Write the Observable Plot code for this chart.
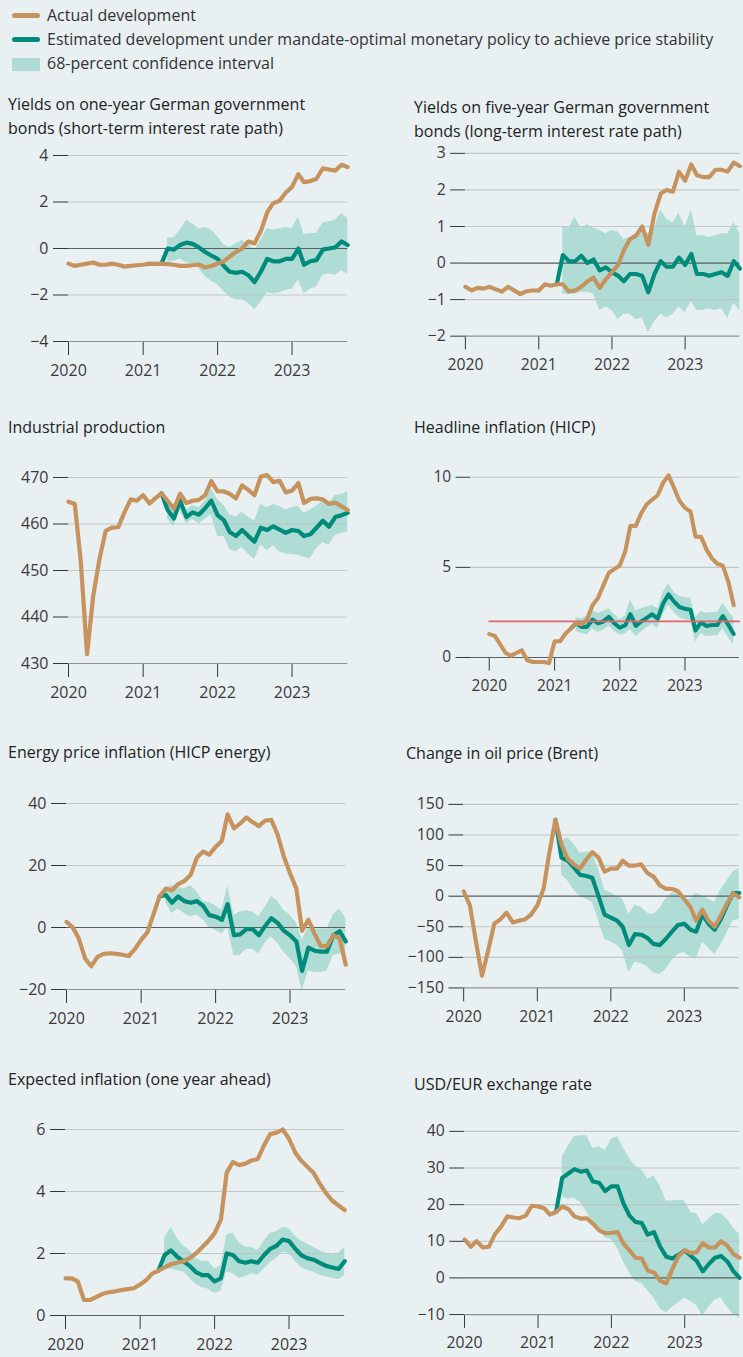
<!DOCTYPE html>
<html><head><meta charset="utf-8">
<script src="https://cdn.jsdelivr.net/npm/d3@7"></script>
<script src="https://cdn.jsdelivr.net/npm/@observablehq/plot@0.6"></script>
<style>
html,body{margin:0;padding:0;background:#e8f0f1;}
#root{position:relative;width:743px;height:1357px;overflow:hidden;background:#e8f0f1;font-family:"Open Sans",sans-serif;color:#222;}
.txt{position:absolute;white-space:nowrap;font-size:16px;line-height:24px;}
.leg{color:#333;}
.panel{position:absolute;}
.sw{position:absolute;}
</style></head>
<body><div id="root"></div>
<script>
// ---------- DATA (monthly, Jan 2020 – Oct 2023; counterfactual from Apr 2021, band from May 2021) ----------
const yearTicks = [2020, 2021, 2022, 2023];
const legendLabels = ["Actual development", "Estimated development under mandate-optimal monetary policy to achieve price stability", "68-percent confidence interval"];

// 1. Yields on one-year German government bonds
const y1Actual = [-0.65,-0.75,-0.7,-0.65,-0.6,-0.7,-0.7,-0.65,-0.7,-0.78,-0.75,-0.72,-0.7,-0.65,-0.66,-0.65,-0.67,-0.7,-0.75,-0.75,-0.72,-0.68,-0.82,-0.75,-0.65,-0.55,-0.35,-0.15,0.0,0.3,0.22,0.75,1.55,1.95,2.05,2.4,2.65,3.2,2.85,2.9,3.0,3.45,3.4,3.35,3.6,3.5];
const y1Est = [-0.65,0.0,-0.05,0.15,0.25,0.2,0.05,-0.15,-0.3,-0.45,-0.75,-1.0,-1.05,-1.0,-1.15,-1.45,-1.0,-0.45,-0.55,-0.55,-0.45,-0.45,0.0,-0.7,-0.55,-0.5,-0.05,0.0,0.05,0.3,0.15];
const y1Hi = [0.45,0.45,0.8,1.2,1.05,0.85,0.9,0.8,0.5,0.15,0.05,0.2,0.35,0.2,-0.1,0.35,0.85,0.8,0.85,0.9,0.85,1.35,0.6,0.65,0.65,1.1,1.15,1.2,1.5,1.3];
const y1Lo = [-0.6,-0.55,-0.45,-0.6,-0.7,-0.85,-1.2,-1.4,-1.55,-1.85,-2.1,-2.2,-2.2,-2.35,-2.65,-2.3,-1.9,-1.95,-1.9,-1.8,-1.75,-1.35,-1.95,-1.75,-1.65,-1.15,-1.1,-1.15,-0.95,-1.1];

// 2. Yields on five-year German government bonds
const y5Actual = [-0.65,-0.75,-0.68,-0.7,-0.65,-0.72,-0.78,-0.65,-0.75,-0.85,-0.77,-0.75,-0.75,-0.58,-0.62,-0.58,-0.58,-0.78,-0.75,-0.65,-0.5,-0.4,-0.68,-0.45,-0.25,-0.05,0.35,0.65,0.75,1.0,0.5,1.35,1.9,2.0,1.95,2.5,2.25,2.7,2.4,2.35,2.35,2.55,2.55,2.5,2.75,2.65];
const y5Est = [-0.58,0.22,0.05,0.05,0.2,0.0,0.1,-0.2,-0.12,-0.25,-0.35,-0.5,-0.3,-0.3,-0.35,-0.8,-0.3,0.05,-0.1,-0.1,0.15,-0.05,0.25,-0.3,-0.3,-0.35,-0.3,-0.25,-0.35,0.05,-0.15];
const y5Hi = [1.0,0.95,1.25,0.95,1.05,0.95,0.9,0.8,0.9,0.85,0.65,0.7,0.8,0.9,0.8,0.95,1.45,1.2,1.1,1.35,1.0,1.45,0.75,0.75,0.7,0.75,0.8,0.8,1.1,0.8];
const y5Lo = [-0.85,-0.85,-0.85,-0.8,-0.8,-0.85,-1.3,-1.2,-1.3,-1.55,-1.4,-1.4,-1.55,-1.5,-1.9,-1.6,-1.4,-1.5,-1.4,-1.2,-1.35,-1.05,-1.3,-1.3,-1.25,-1.3,-1.25,-1.5,-1.1,-1.3];

// 3. Industrial production
const ipActual = [464.8,464.3,452,432,444.5,452.5,458.5,459.2,459.3,462.5,465.3,465,466.2,464.4,465.5,466.6,465,463.3,466.5,464.5,465,465.2,466.2,469.2,467,467,466.5,465.5,468.3,467.3,466.2,470.2,470.5,469,469.3,466.8,467.2,468.8,464.5,465.4,465.5,465.3,464.3,464.6,463.8,463];
const ipEst = [466.6,463,461.2,465,461.5,462.5,462,463.4,465,461.9,460.8,458.3,457.4,458.7,457.4,456.2,459.2,458.7,459.5,458.8,458.1,458.7,458.5,457.4,457.8,459.2,460.7,459.4,461.5,461.9,462.4];
const ipHi = [465,463.5,466.5,463,464,463.5,465,467.5,465.2,464,462,461.5,462.5,461.5,460.6,464.3,463.5,464.2,463.8,463,463.5,463.8,462.3,463,463.8,465,464.3,466.2,466.3,467];
const ipLo = [461,459.5,463,460,461,460,461,462,457.3,457.3,454.5,454,455,453.5,452.4,455.5,454.3,455.3,454,453.5,453.5,453.3,452.8,452.6,454.7,456,455.4,457.5,458,458.2];

// 4. Headline inflation (HICP)
const hicpActual = [1.3,1.2,0.75,0.25,0.1,0.25,0.4,-0.15,-0.25,-0.25,-0.25,-0.3,0.9,0.9,1.3,1.6,1.9,1.85,2.1,2.9,3.3,4.0,4.7,4.9,5.1,5.9,7.3,7.3,8.0,8.5,8.75,9.0,9.7,10.1,9.4,8.7,8.3,8.1,6.7,6.7,6.0,5.5,5.2,5.1,4.2,2.9];
const hicpEst = [1.6,1.9,1.7,1.7,2.1,1.9,2.0,2.25,1.9,1.65,1.8,2.4,1.75,2.0,2.2,2.4,2.15,3.0,3.5,3.1,2.8,2.7,2.65,1.5,1.95,1.75,1.8,1.8,2.3,1.8,1.3];
const hicpHi = [2.2,2.15,2.3,2.6,2.45,2.55,2.7,2.4,2.1,2.3,3.2,2.6,2.7,2.8,2.9,2.7,3.6,4.1,3.6,3.4,3.3,3.3,2.2,2.55,2.45,2.5,2.5,3.0,2.55,2.2];
const hicpLo = [1.45,1.35,1.25,1.6,1.4,1.5,1.75,1.45,1.25,1.3,1.55,1.15,1.4,1.65,1.85,1.6,2.4,2.9,2.5,2.2,2.1,2.05,0.85,1.35,1.15,1.2,1.2,1.6,1.1,0.7];
const hicpTarget = 2;

// 5. Energy price inflation (HICP energy)
const enActual = [1.8,0,-3.5,-10,-12.5,-9.5,-8.5,-8.3,-8.5,-8.8,-9.2,-7,-4,-1.5,4,10,12.5,12,14,15,17,22.5,24.5,23.5,26,28,36.5,32,33.5,35.5,34,32.7,34.5,34.7,30,23,17.5,12.5,-1,2.5,-2,-6,-6,-2.5,-3.5,-12];
const enEst = [10,10.5,8,10,8.5,8,8.5,7,4,3.5,2.5,7.5,-2.5,-2.2,-0.5,-0.5,-2.5,0.5,3,1.5,-1,-2.5,-4.5,-14,-6.5,-7.5,-7.8,-7.8,-2.5,-1.2,-4.5];
const enHi = [13,13.5,13,12.5,13.5,11.5,8.5,8,7,5.5,13.5,4,5,5.5,5,3.5,6.5,10,8.5,5.5,4,1.5,-4,0,-0.5,-0.5,-0.5,4,6,3];
const enLo = [8,4.5,6,4.5,3.5,4,2.5,0,-1,-2,0,-9,-9,-7,-7,-8.5,-5,-3,-5,-8,-10,-12.5,-20.5,-14,-14.5,-14.5,-14,-9,-8.5,-8];

// 6. Change in oil price (Brent)
const oilActual = [8,-15,-72,-130,-90,-45,-38,-27,-43,-40,-38,-30,-15,12,70,125,84,61,52,45,60,72,63,40,45,45,58,50,50,52,38,32,18,12,12,8,-5,-18,-40,-22,-40,-50,-32,-12,5,-2];
const oilEst = [125,63,58,47,35,33,30,0,-30,-35,-40,-50,-80,-62,-63,-68,-78,-80,-70,-58,-47,-45,-55,-58,-30,-45,-55,-38,-15,5,5];
const oilHi = [90,95,85,70,72,70,45,10,5,0,-5,-30,-15,-18,-28,-30,-20,-5,5,5,-5,-5,5,0,-5,-10,10,25,40,45];
const oilLo = [35,25,10,0,-5,-10,-40,-70,-75,-80,-90,-125,-108,-110,-115,-125,-128,-120,-105,-95,-92,-100,-103,-75,-85,-95,-80,-60,-40,-38];

// 7. Expected inflation (one year ahead)
const exActual = [1.2,1.2,1.1,0.5,0.5,0.6,0.7,0.75,0.78,0.82,0.85,0.88,1.0,1.15,1.35,1.45,1.55,1.65,1.7,1.75,1.85,2.0,2.2,2.4,2.65,3.1,4.6,4.95,4.85,4.9,5.0,5.05,5.5,5.85,5.9,6.0,5.7,5.25,5.0,4.8,4.6,4.25,3.95,3.7,3.55,3.4];
const exEst = [1.45,1.95,2.1,1.9,1.75,1.6,1.4,1.3,1.3,1.1,1.2,2.0,1.95,1.75,1.7,1.75,1.7,1.95,2.15,2.25,2.45,2.4,2.15,1.95,1.85,1.8,1.7,1.6,1.55,1.5,1.75];
const exHi = [2.5,2.85,2.5,2.25,2.1,1.85,1.75,1.75,1.5,1.6,2.6,2.65,2.35,2.2,2.2,2.1,2.4,2.65,2.7,2.85,2.8,2.55,2.4,2.3,2.2,2.1,2.0,1.95,2.0,2.2];
const exLo = [1.5,1.5,1.45,1.4,1.2,1.0,0.9,0.85,0.7,0.8,1.4,1.35,1.2,1.25,1.35,1.3,1.5,1.7,1.85,2.05,2.0,1.75,1.55,1.45,1.4,1.3,1.25,1.2,1.15,1.3];

// 8. USD/EUR exchange rate
const fxActual = [10.5,8.5,10,8.3,8.5,12,14,16.8,16.5,16.3,17,19.7,19.5,19,17.3,18,19.5,18.8,16.8,16.2,16.3,14.8,13,12.2,12.3,12.5,9.5,7.5,5.5,5.3,2,1.5,-0.8,-1.5,2.5,6,7.5,6.8,7,9.5,8.3,8.3,10,8.8,6.5,5.5];
const fxEst = [18,27.3,28.5,29.7,29,29.3,26.3,26,23.7,25,25,20.5,17,15.3,15,11.8,12.5,8.5,5.8,5.3,6.3,7.5,6,4.7,1.8,3.8,5.5,6,4.5,1.8,0];
const fxHi = [33,36,38.5,38.8,38.8,35.3,35.8,34.8,37.8,38.5,35.5,32.5,30.5,29.5,27,27.8,25,21,21,21.2,21,17.8,17.6,14.5,16,17.6,17.5,16,13.5,12];
const fxLo = [22,21.5,21.8,20.5,18,15,13,11,10.5,8,4.5,1.5,-1,-1.5,-3.5,-5.5,-8.5,-9.5,-8,-6.8,-5.5,-6.5,-7.5,-10.5,-8,-6,-5.5,-8,-10,-11];

// ---------- COLOURS ----------
const C_ACT = "#c6925e", C_EST = "#008b7b", C_BAND = "#afdcd4", C_TARGET = "#e2646e";
const C_GRID = "#bcc3c5", C_ZERO = "#5a5f61", C_BASE = "#8c9395", C_TEXT = "#3a3a3a";

// ---------- HELPERS ----------
const root = document.getElementById("root");
const months = d3.utcMonth.range(new Date(Date.UTC(2020,0,1)), new Date(Date.UTC(2023,10,1)));
const EST_START = 15, BAND_START = 16;
const YEAR = 365.25 * 864e5;
const D2020 = new Date(Date.UTC(2020,0,1));
const yearDates = yearTicks.map(y => new Date(Date.UTC(y,0,1)));

function addText(str, x, yc, cls) {
  const d = document.createElement("div");
  d.className = "txt" + (cls ? " " + cls : ""); d.textContent = str;
  d.style.left = x + "px"; d.style.top = (yc - 12) + "px";
  root.appendChild(d);
}
function addBox(x, y, w, h, bg, r) {
  const d = document.createElement("div");
  d.className = "sw";
  Object.assign(d.style, {left: x+"px", top: y+"px", width: w+"px", height: h+"px", background: bg, borderRadius: (r||0)+"px"});
  root.appendChild(d);
}

// legend
addBox(12, 12.5, 28, 5, C_ACT, 3);
addText(legendLabels[0], 47, 15, "leg");
addBox(12, 37, 28, 5, C_EST, 3);
addText(legendLabels[1], 47, 39, "leg");
addBox(12, 58, 28, 13, C_BAND, 0);
addText(legendLabels[2], 47, 63, "leg");

function panel(cfg) {
  const {xa, ppy, ds, de, yTop, yDomain, yTicks, actual, est, hi, lo, target} = cfg;
  const px = d => xa + (d - D2020) / YEAR * ppy;
  const mL = 64, mR = 4, mT = 8, mB = 44, H = 186;
  const xs = px(ds), xe = px(de);
  const width = xe - xs + mL + mR;
  const A = actual.map((v,i) => ({date: months[i], v}));
  const E = est.map((v,i) => ({date: months[i+EST_START], v}));
  const B = hi.map((v,i) => ({date: months[i+BAND_START], hi: v, lo: lo[i]}));
  const fmt = d3.format("");
  const marks = [
    Plot.axisY(yTicks, {anchor: "left", tickSize: 15, tickPadding: 5, fontSize: 16, color: C_TEXT, stroke: "#333", tickFormat: fmt}),
    Plot.axisX(yearDates, {anchor: "bottom", tickSize: 14, tickPadding: 9, fontSize: 16, color: C_TEXT, stroke: "#333", tickFormat: d3.utcFormat("%Y")}),
    Plot.areaY(B, {x: "date", y1: "lo", y2: "hi", fill: C_BAND, fillOpacity: 1}),
    Plot.gridY(yTicks.filter(t => t !== 0 && t !== yDomain[0]), {stroke: C_GRID, strokeOpacity: 0.9, strokeWidth: 1.2}),
    Plot.ruleY([yDomain[0]], {stroke: yDomain[0] === 0 ? C_ZERO : C_BASE, strokeWidth: 1.2}),
  ];
  if (yDomain[0] < 0 && yDomain[1] > 0) marks.push(Plot.ruleY([0], {stroke: C_ZERO, strokeWidth: 1.2}));
  marks.push(Plot.lineY(E, {x: "date", y: "v", stroke: C_EST, strokeWidth: 4.2, strokeLinejoin: "round", strokeLinecap: "round"}));
  if (target !== undefined) {
    marks.push(Plot.lineY([{date: months[0], v: target}, {date: de, v: target}], {x: "date", y: "v", stroke: C_TARGET, strokeWidth: 1.8}));
  }
  marks.push(Plot.lineY(A, {x: "date", y: "v", stroke: C_ACT, strokeWidth: 4.2, strokeLinejoin: "round", strokeLinecap: "round"}));
  const svg = Plot.plot({
    width, height: mT + H + mB,
    marginLeft: mL, marginRight: mR, marginTop: mT, marginBottom: mB,
    x: {type: "utc", domain: [ds, de], axis: null},
    y: {domain: yDomain, axis: null},
    style: {background: "transparent", fontFamily: "'Open Sans', sans-serif", fontSize: "16px", color: C_TEXT, overflow: "visible"},
    marks
  });
  const wrap = document.createElement("div");
  wrap.className = "panel";
  wrap.style.left = (xs - mL) + "px";
  wrap.style.top = (yTop - mT) + "px";
  wrap.appendChild(svg);
  root.appendChild(wrap);
}

const dStart = new Date(Date.UTC(2020,0,1)), dEnd = new Date(Date.UTC(2023,9,1));

// titles
addText("Yields on one-year German government", 8, 104);
addText("bonds (short-term interest rate path)", 8, 128);
addText("Yields on five-year German government", 414, 107);
addText("bonds (long-term interest rate path)", 414, 131);
addText("Industrial production", 8, 427);
addText("Headline inflation (HICP)", 414, 427);
addText("Energy price inflation (HICP energy)", 8, 752);
addText("Change in oil price (Brent)", 406, 753);
addText("Expected inflation (one year ahead)", 8, 1079);
addText("USD/EUR exchange rate", 414, 1084);

panel({xa: 67.7, ppy: 74.5, ds: dStart, de: dEnd, yTop: 155, yDomain: [-4,4], yTicks: [-4,-2,0,2,4], actual: y1Actual, est: y1Est, hi: y1Hi, lo: y1Lo});
panel({xa: 465.7, ppy: 74.5, ds: dStart, de: dEnd, yTop: 153.3, yDomain: [-2,3], yTicks: [-2,-1,0,1,2,3], actual: y5Actual, est: y5Est, hi: y5Hi, lo: y5Lo});
panel({xa: 67.7, ppy: 74.5, ds: dStart, de: dEnd, yTop: 477.3, yDomain: [430,470], yTicks: [430,440,450,460,470], actual: ipActual, est: ipEst, hi: ipHi, lo: ipLo});
panel({xa: 491.7, ppy: 67.3, ds: new Date(Date.UTC(2019,8,18)), de: new Date(Date.UTC(2023,10,1)), yTop: 477.3, yDomain: [0,10], yTicks: [0,5,10], actual: hicpActual, est: hicpEst, hi: hicpHi, lo: hicpLo, target: hicpTarget});
panel({xa: 65.7, ppy: 74.5, ds: dStart, de: dEnd, yTop: 803.3, yDomain: [-20,40], yTicks: [-20,0,20,40], actual: enActual, est: enEst, hi: enHi, lo: enLo});
panel({xa: 464.3, ppy: 74.5, ds: dStart, de: dEnd, yTop: 804.3, yDomain: [-150,150], yTicks: [-150,-100,-50,0,50,100,150], actual: oilActual, est: oilEst, hi: oilHi, lo: oilLo});
panel({xa: 65.3, ppy: 74.5, ds: dStart, de: dEnd, yTop: 1129.3, yDomain: [0,6], yTicks: [0,2,4,6], actual: exActual, est: exEst, hi: exHi, lo: exLo});
panel({xa: 465, ppy: 74.5, ds: dStart, de: dEnd, yTop: 1130.7, yDomain: [-10,40], yTicks: [-10,0,10,20,30,40], actual: fxActual, est: fxEst, hi: fxHi, lo: fxLo});
</script>
</body></html>
